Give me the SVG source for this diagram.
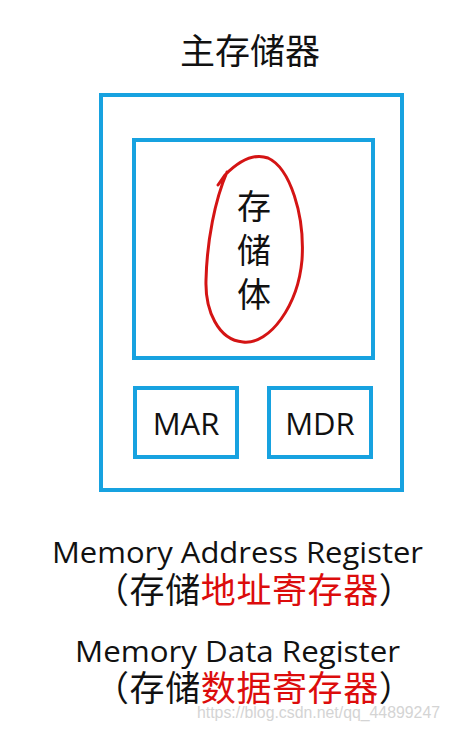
<svg xmlns="http://www.w3.org/2000/svg" width="450" height="730" viewBox="0 0 450 730">
<style>
.box{fill:none;stroke:#17a2e0;stroke-width:4}
.cjk{font-family:"Noto Sans CJK SC","Liberation Sans",sans-serif;fill:#111}
.lat{font-family:"Open Sans","Liberation Sans",sans-serif;fill:#111}
.red{fill:#dc0c0c}
</style>
<rect width="450" height="730" fill="#ffffff"/>
<text class="cjk" x="250" y="64" font-size="35" text-anchor="middle">主存储器</text>
<g id="main-memory">
<rect class="box" x="101" y="95" width="301" height="395"/>
</g>
<g id="storage-body">
<rect class="box" x="134" y="140" width="239" height="218"/>
<text class="cjk" x="254" y="219" font-size="34" text-anchor="middle">存</text>
<text class="cjk" x="254" y="263" font-size="34" text-anchor="middle">储</text>
<text class="cjk" x="254" y="307" font-size="34" text-anchor="middle">体</text>
<path d="M218,185 L225,175 C236,164 252,152 268,158 C290,168 305,215 302,260 C298,305 270,345 243,342 C218,340 205,310 206,280 C207,240 215,200 227,172" fill="none" stroke="#d41414" stroke-width="3" stroke-linecap="round"/>
</g>
<g id="mar">
<rect class="box" x="135" y="388" width="102" height="69"/>
<text class="lat" x="186" y="435" font-size="31" text-anchor="middle">MAR</text>
</g>
<g id="mdr">
<rect class="box" x="269" y="388" width="102" height="69"/>
<text class="lat" x="320" y="435" font-size="31" text-anchor="middle">MDR</text>
</g>
<g id="connectors"></g>
<text class="lat" x="52" y="563" font-size="29" textLength="371" lengthAdjust="spacingAndGlyphs">Memory Address Register</text>
<text class="cjk" x="94" y="603" font-size="35" letter-spacing="0.6">（存储<tspan class="red">地址寄存器</tspan>）</text>
<text class="lat" x="75" y="662" font-size="29" textLength="325" lengthAdjust="spacingAndGlyphs">Memory Data Register</text>
<text class="cjk" x="94" y="701" font-size="35" letter-spacing="0.6">（存储<tspan class="red">数据寄存器</tspan>）</text>
<text x="197" y="718" font-size="16" font-family="Liberation Sans,sans-serif" fill="#d4d4d4" textLength="243" lengthAdjust="spacingAndGlyphs">https://blog.csdn.net/qq_44899247</text>
</svg>
